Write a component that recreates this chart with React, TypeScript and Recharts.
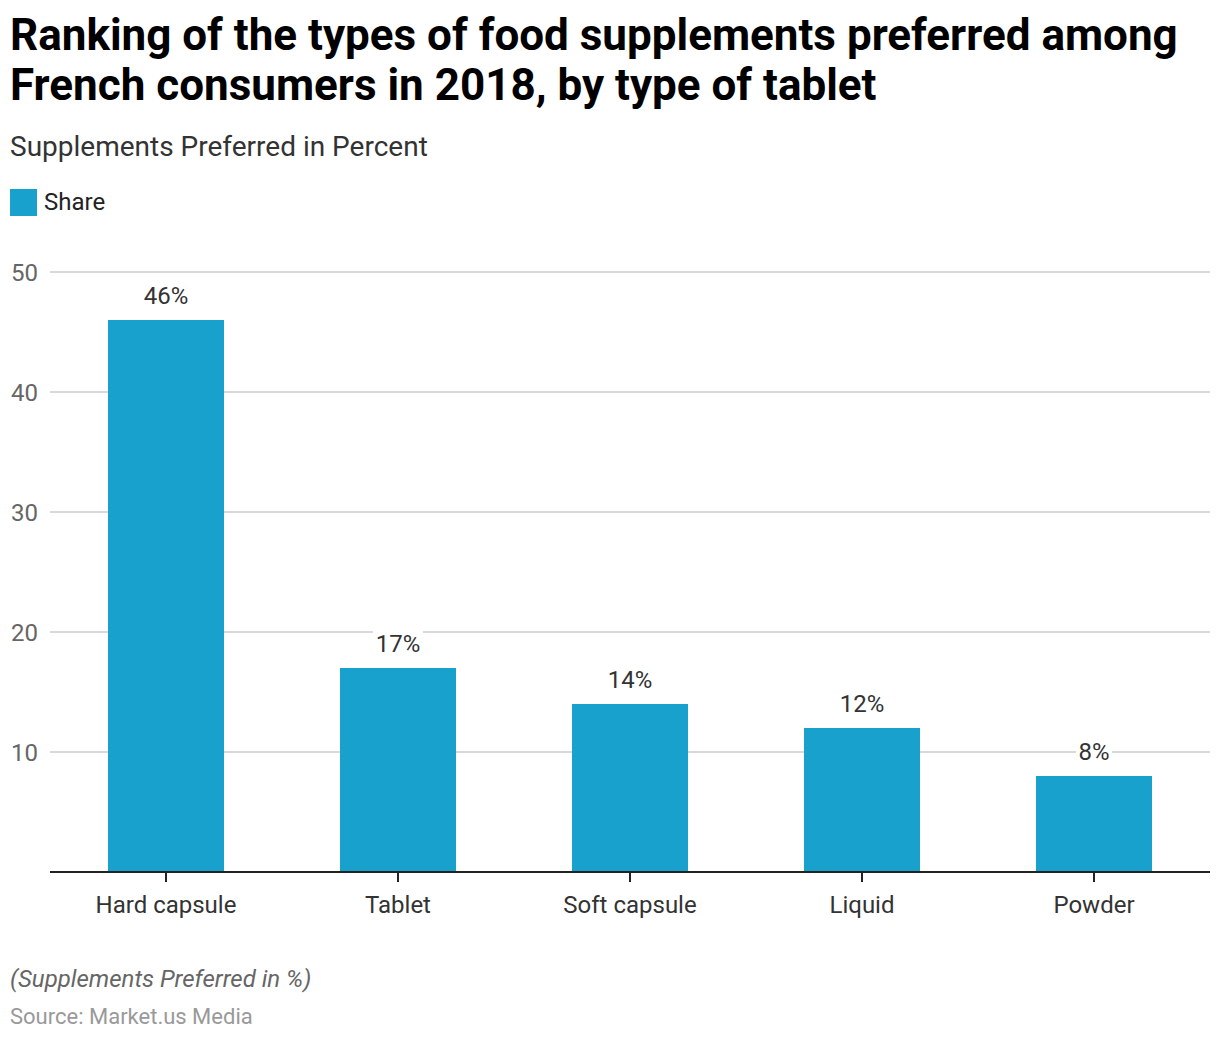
import React from "react";
import { BarChart, Bar, XAxis, YAxis, CartesianGrid, LabelList } from "recharts";

const categories = ["Hard capsule", "Tablet", "Soft capsule", "Liquid", "Powder"];
const shareValues = [46, 17, 14, 12, 8];
const yTicks = [10, 20, 30, 40, 50];

const data = categories.map((c, i) => ({ name: c, share: shareValues[i] }));

const FONT = "Roboto, 'Noto Sans', sans-serif";
const BAR_COLOR = "#18A1CD";

const ValueLabel = (props: any) => {
  const { x, y, width, value } = props;
  const cx = x + width / 2;
  const text = `${value}%`;
  const w = text.length * 14 + 8;
  return (
    <g>
      <rect x={cx - w / 2} y={y - 38} width={w} height={30} fill="#fff" />
      <text x={cx} y={y - 16} textAnchor="middle" fill="#333" fontSize={24} fontFamily={FONT}>
        {text}
      </text>
    </g>
  );
};

export default function App() {
  return (
    <div style={{ position: "absolute", left: 0, top: 0, width: 1220, height: 1042, background: "#fff", fontFamily: FONT }}>
      <div style={{ position: "absolute", left: 10, top: 10, fontSize: 44, fontWeight: 700, lineHeight: "50px", color: "#000", width: 1200 }}>
        Ranking of the types of food supplements preferred among French consumers in 2018, by type of tablet
      </div>
      <div style={{ position: "absolute", left: 10, top: 130, fontSize: 28, color: "#333" }}>
        Supplements Preferred in Percent
      </div>
      <div style={{ position: "absolute", left: 10, top: 188, display: "flex", alignItems: "center" }}>
        <div style={{ width: 27, height: 27, background: BAR_COLOR }} />
        <span style={{ marginLeft: 7, fontSize: 24, color: "#222" }}>Share</span>
      </div>
      <div style={{ position: "absolute", left: 0, top: 0 }}>
        <BarChart width={1220} height={960} data={data} margin={{ top: 272, right: 10, left: 2, bottom: 0 }} barCategoryGap="25%">
          <CartesianGrid vertical={false} stroke="#d9d9d9" strokeWidth={2} />
          <XAxis
            dataKey="name"
            height={88}
            axisLine={{ stroke: "#222", strokeWidth: 2 }}
            tickLine={{ stroke: "#222", strokeWidth: 2 }}
            tickSize={10}
            tickMargin={14}
            tick={{ fill: "#333", fontSize: 24, fontFamily: FONT }}
            interval={0}
          />
          <YAxis
            domain={[0, 50]}
            ticks={yTicks}
            width={48}
            axisLine={false}
            tickLine={false}
            tickMargin={6}
            tick={{ fill: "#666", fontSize: 24, fontFamily: FONT, textAnchor: "end" }}
          />
          <Bar dataKey="share" fill={BAR_COLOR} isAnimationActive={false}>
            <LabelList dataKey="share" content={<ValueLabel />} />
          </Bar>
        </BarChart>
      </div>
      <div style={{ position: "absolute", left: 10, top: 965, fontSize: 24, fontStyle: "italic", color: "#666" }}>
        (Supplements Preferred in %)
      </div>
      <div style={{ position: "absolute", left: 10, top: 1004, fontSize: 22, color: "#999" }}>
        Source: Market.us Media
      </div>
    </div>
  );
}
